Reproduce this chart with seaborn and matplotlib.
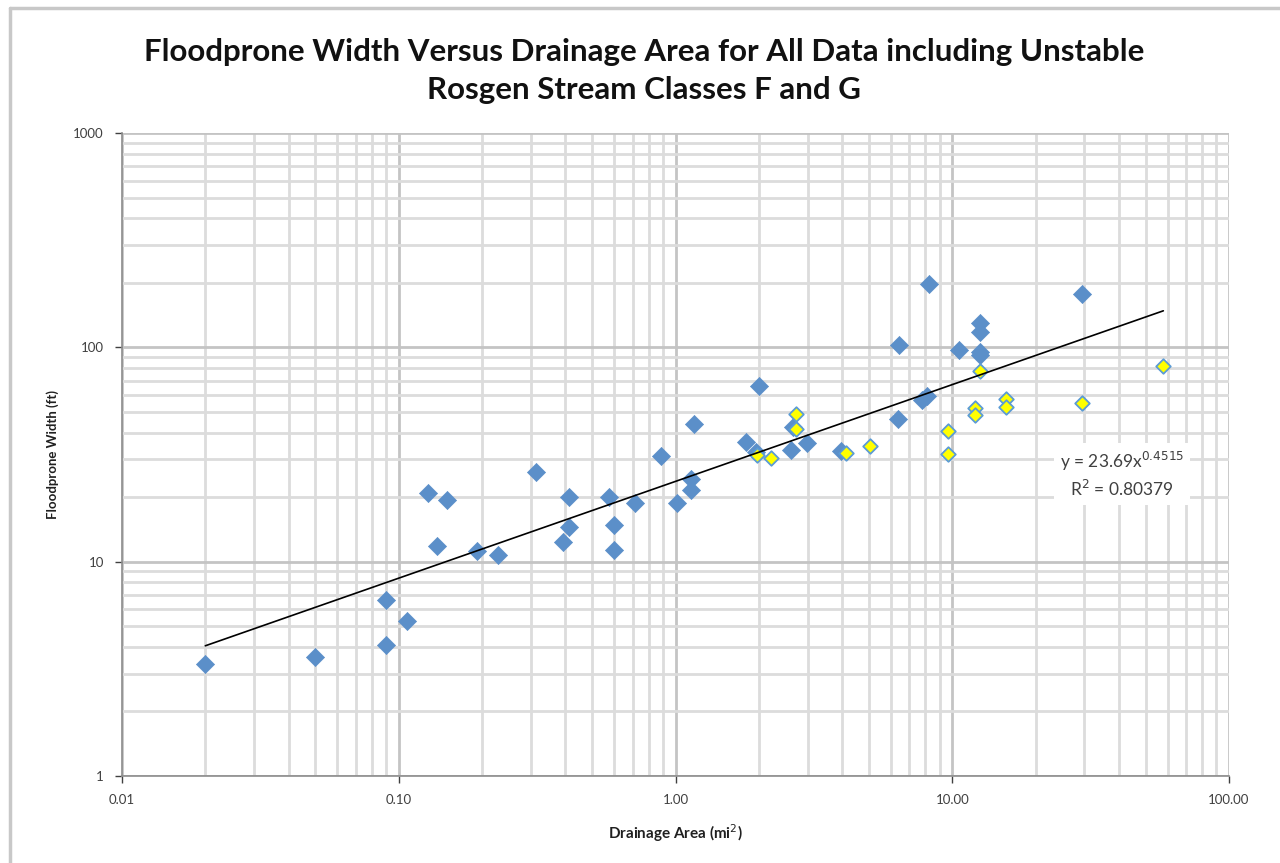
import matplotlib
matplotlib.use("Agg")
import matplotlib.pyplot as plt
import matplotlib.ticker as mticker
from matplotlib.lines import Line2D
import numpy as np
import pandas as pd
import seaborn as sns

# Stable stream classes (blue diamonds)
blue_area = [0.020, 0.050, 0.090, 0.090, 0.107, 0.128, 0.138, 0.150, 0.191, 0.229,
             0.314, 0.392, 0.411, 0.411, 0.573, 0.598, 0.598, 0.711, 0.885, 1.01,
             1.14, 1.14, 1.17, 1.80, 1.95, 2.00, 2.62, 2.65, 2.99, 3.96,
             6.35, 6.44, 7.80, 8.10, 8.26, 10.6, 12.6, 12.6, 12.6, 12.6, 29.5]
blue_width = [3.33, 3.59, 4.08, 6.62, 5.28, 20.9, 11.8, 19.4, 11.2, 10.7,
              26.2, 12.3, 20.1, 14.5, 20.1, 14.8, 11.3, 18.7, 31.1, 18.7,
              24.3, 21.6, 43.9, 36.0, 32.6, 66.2, 33.2, 42.6, 35.9, 32.8,
              46.1, 102.6, 57.0, 59.0, 197.0, 97.1, 130.0, 118.0, 95.0, 92.0, 177.0]

# Unstable Rosgen classes F and G (yellow diamonds)
fg_area = [1.97, 2.21, 2.73, 2.72, 4.13, 5.06, 9.62, 9.62, 12.1, 12.1,
           12.6, 15.6, 15.6, 29.5, 57.9]
fg_width = [31.4, 30.5, 48.8, 41.6, 32.2, 34.7, 40.8, 31.7, 51.9, 48.3,
            77.5, 57.2, 52.8, 54.8, 82.0]

# Power-law trendline coefficients
fit_coef = 23.69
fit_exp = 0.4515
fit_r2 = 0.80379

x_ticks = [0.01, 0.1, 1, 10, 100]
x_tick_labels = ["0.01", "0.10", "1.00", "10.00", "100.00"]
y_ticks = [1, 10, 100, 1000]
y_tick_labels = ["1", "10", "100", "1000"]

sns.set_theme(style="white")
plt.rcParams["font.family"] = ["Lato", "DejaVu Sans"]

fig = plt.figure(figsize=(12.8, 8.63), dpi=100)
ax = fig.add_axes([122 / 1280, 1 - 776 / 863, (1229 - 122) / 1280, (776 - 133) / 863])

# Chart-area frame
fig.add_artist(Line2D([10 / 1280, 10 / 1280], [0, 1 - 8 / 863], transform=fig.transFigure,
                      color="#C8C8C8", lw=2.5))
fig.add_artist(Line2D([10 / 1280, 1], [1 - 8 / 863, 1 - 8 / 863], transform=fig.transFigure,
                      color="#C8C8C8", lw=2.5))

ax.set_xscale("log")
ax.set_yscale("log")
ax.set_xlim(0.01, 100)
ax.set_ylim(1, 1000)

# Gridlines
ax.grid(which="major", color="#C4C4C4", lw=2.0)
ax.grid(which="minor", color="#DCDCDC", lw=2.0)
ax.xaxis.set_minor_locator(mticker.LogLocator(base=10, subs=np.arange(2, 10)))
ax.yaxis.set_minor_locator(mticker.LogLocator(base=10, subs=np.arange(2, 10)))
ax.set_axisbelow(True)

df_blue = pd.DataFrame({"area": blue_area, "width": blue_width})
df_fg = pd.DataFrame({"area": fg_area, "width": fg_width})

sns.scatterplot(data=df_blue, x="area", y="width", ax=ax, marker="D", s=85,
                color="#5B8FC9", edgecolor="#5B8FC9", linewidth=0.5, zorder=3)
sns.scatterplot(data=df_fg, x="area", y="width", ax=ax, marker="D", s=55,
                color="#FFFF00", edgecolor="#5B9BD5", linewidth=1.3, zorder=4)

# Trendline y = a x^b
x_line = np.logspace(np.log10(min(blue_area + fg_area)), np.log10(max(blue_area + fg_area)), 200)
sns.lineplot(x=x_line, y=fit_coef * x_line ** fit_exp, ax=ax, color="black", lw=1.2, zorder=5)

ax.text(41, 25.4, f"y = {fit_coef}x$^{{{fit_exp}}}$\nR$^2$ = {fit_r2}", ha="center", va="center",
        fontsize=12.5, color="#404040", linespacing=1.35,
        bbox=dict(facecolor="white", edgecolor="none", pad=4), zorder=6)

ax.set_xticks(x_ticks)
ax.set_xticklabels(x_tick_labels)
ax.set_yticks(y_ticks)
ax.set_yticklabels(y_tick_labels)
ax.tick_params(axis="both", which="major", labelsize=9.5, colors="#404040", length=5, width=1,
               direction="out", pad=8)
ax.tick_params(axis="both", which="minor", length=0)
ax.tick_params(axis="x", which="major", bottom=True)
ax.tick_params(axis="y", which="major", left=True)

for side in ["top", "right"]:
    ax.spines[side].set_visible(False)
for side in ["left", "bottom"]:
    ax.spines[side].set_color("#8C8C8C")
    ax.spines[side].set_linewidth(1.2)

ax.set_xlabel("Drainage Area (mi$^2$)", fontsize=11, fontweight="bold", color="#202020", labelpad=12)
ax.set_ylabel("Floodprone Width (ft)", fontsize=9.5, fontweight="bold", color="#202020", labelpad=10)

fig.text(0.503, 1 - 71 / 863,
         "Floodprone Width Versus Drainage Area for All Data including Unstable\nRosgen Stream Classes F and G",
         ha="center", va="center", fontsize=22.5, fontweight="bold", color="#111111", linespacing=1.42)

fig.savefig("out.png", dpi=100)
